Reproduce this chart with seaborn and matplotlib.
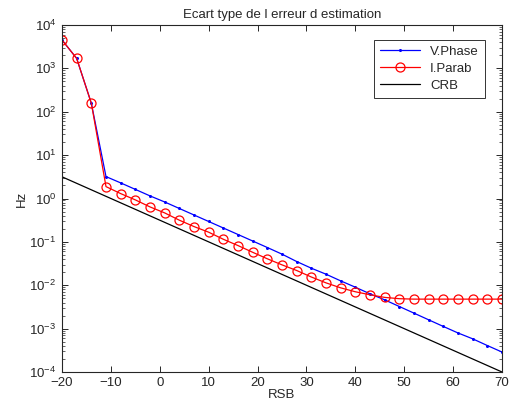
import numpy as np
import pandas as pd
import matplotlib
matplotlib.use("Agg")
import matplotlib.pyplot as plt
import seaborn as sns

# RSB (dB) grid, step 3
rsb = list(range(-20, 71, 3))

# log10 of the standard deviation
log_vphase = [3.655, 3.23, 2.196, 0.505, 0.36, 0.21, 0.06, -0.08, -0.23, -0.38,
              -0.53, -0.68, -0.83, -0.98, -1.13, -1.283, -1.453, -1.607, -1.745,
              -1.899, -2.045, -2.198, -2.336, -2.49, -2.643, -2.797, -2.95, -3.10,
              -3.235, -3.39, -3.54]
log_iparab = [3.655, 3.23, 2.196, 0.274, 0.113, -0.032, -0.194, -0.332, -0.50,
              -0.647, -0.777, -0.94, -1.085, -1.24, -1.39, -1.53, -1.66, -1.81,
              -1.945, -2.06, -2.15, -2.22, -2.28, -2.31, -2.32, -2.32, -2.32,
              -2.32, -2.32, -2.32, -2.32]
log_crb = [0.50, 0.35, 0.20, 0.05, -0.10, -0.25, -0.40, -0.55, -0.70, -0.85,
           -1.00, -1.15, -1.30, -1.45, -1.60, -1.75, -1.90, -2.05, -2.20, -2.35,
           -2.50, -2.65, -2.80, -2.95, -3.10, -3.25, -3.40, -3.55, -3.70, -3.85,
           -4.00]

df = pd.DataFrame({
    "RSB": rsb,
    "V.Phase": 10 ** np.array(log_vphase),
    "I.Parab": 10 ** np.array(log_iparab),
    "CRB": 10 ** np.array(log_crb),
})

sns.set_style("ticks")
plt.rcParams["font.family"] = ["Liberation Sans", "DejaVu Sans"]
fs = 9.5
plt.rcParams["font.size"] = fs

fig = plt.figure(figsize=(5.18, 4.08), dpi=100)
ax = fig.add_axes([62 / 518, 1 - 372 / 408, 440 / 518, 347 / 408])

sns.lineplot(data=df, x="RSB", y="V.Phase", ax=ax, color="blue", lw=0.9,
             marker="o", markersize=2.2, markeredgewidth=0, label="V.Phase")
sns.lineplot(data=df, x="RSB", y="I.Parab", ax=ax, color="red", lw=0.9,
             marker="o", markersize=6.5, markerfacecolor="none",
             markeredgecolor="red", markeredgewidth=0.9, label="I.Parab")
sns.lineplot(data=df, x="RSB", y="CRB", ax=ax, color="black", lw=0.9, label="CRB")

ax.set_yscale("log")
ax.set_xlim(-20, 70)
ax.set_ylim(1e-4, 1e4)
ax.set_xticks(range(-20, 71, 10))
ax.set_yticks([10.0 ** p for p in range(-4, 5)])
ax.tick_params(which="both", direction="in", top=True, right=True, labelsize=fs)
ax.tick_params(which="major", length=4, width=0.7)
ax.tick_params(axis="x", which="major", pad=3.5)
ax.tick_params(axis="y", which="major", pad=4)
ax.tick_params(which="minor", length=2, width=0.5)
for s in ax.spines.values():
    s.set_linewidth(0.8)

ax.set_xlabel("RSB", fontsize=fs, labelpad=0)
ax.set_ylabel("Hz", fontsize=fs, labelpad=1)
ax.set_title("Ecart type de l erreur d estimation", fontsize=fs, pad=5)

leg = ax.legend(loc="upper right", bbox_to_anchor=(0.961, 0.957), fontsize=fs,
                frameon=True, fancybox=False, edgecolor="black",
                borderaxespad=0, handlelength=3.0, labelspacing=0.35,
                borderpad=0.45)
leg.get_frame().set_linewidth(0.7)

fig.savefig("out.png", dpi=100)
